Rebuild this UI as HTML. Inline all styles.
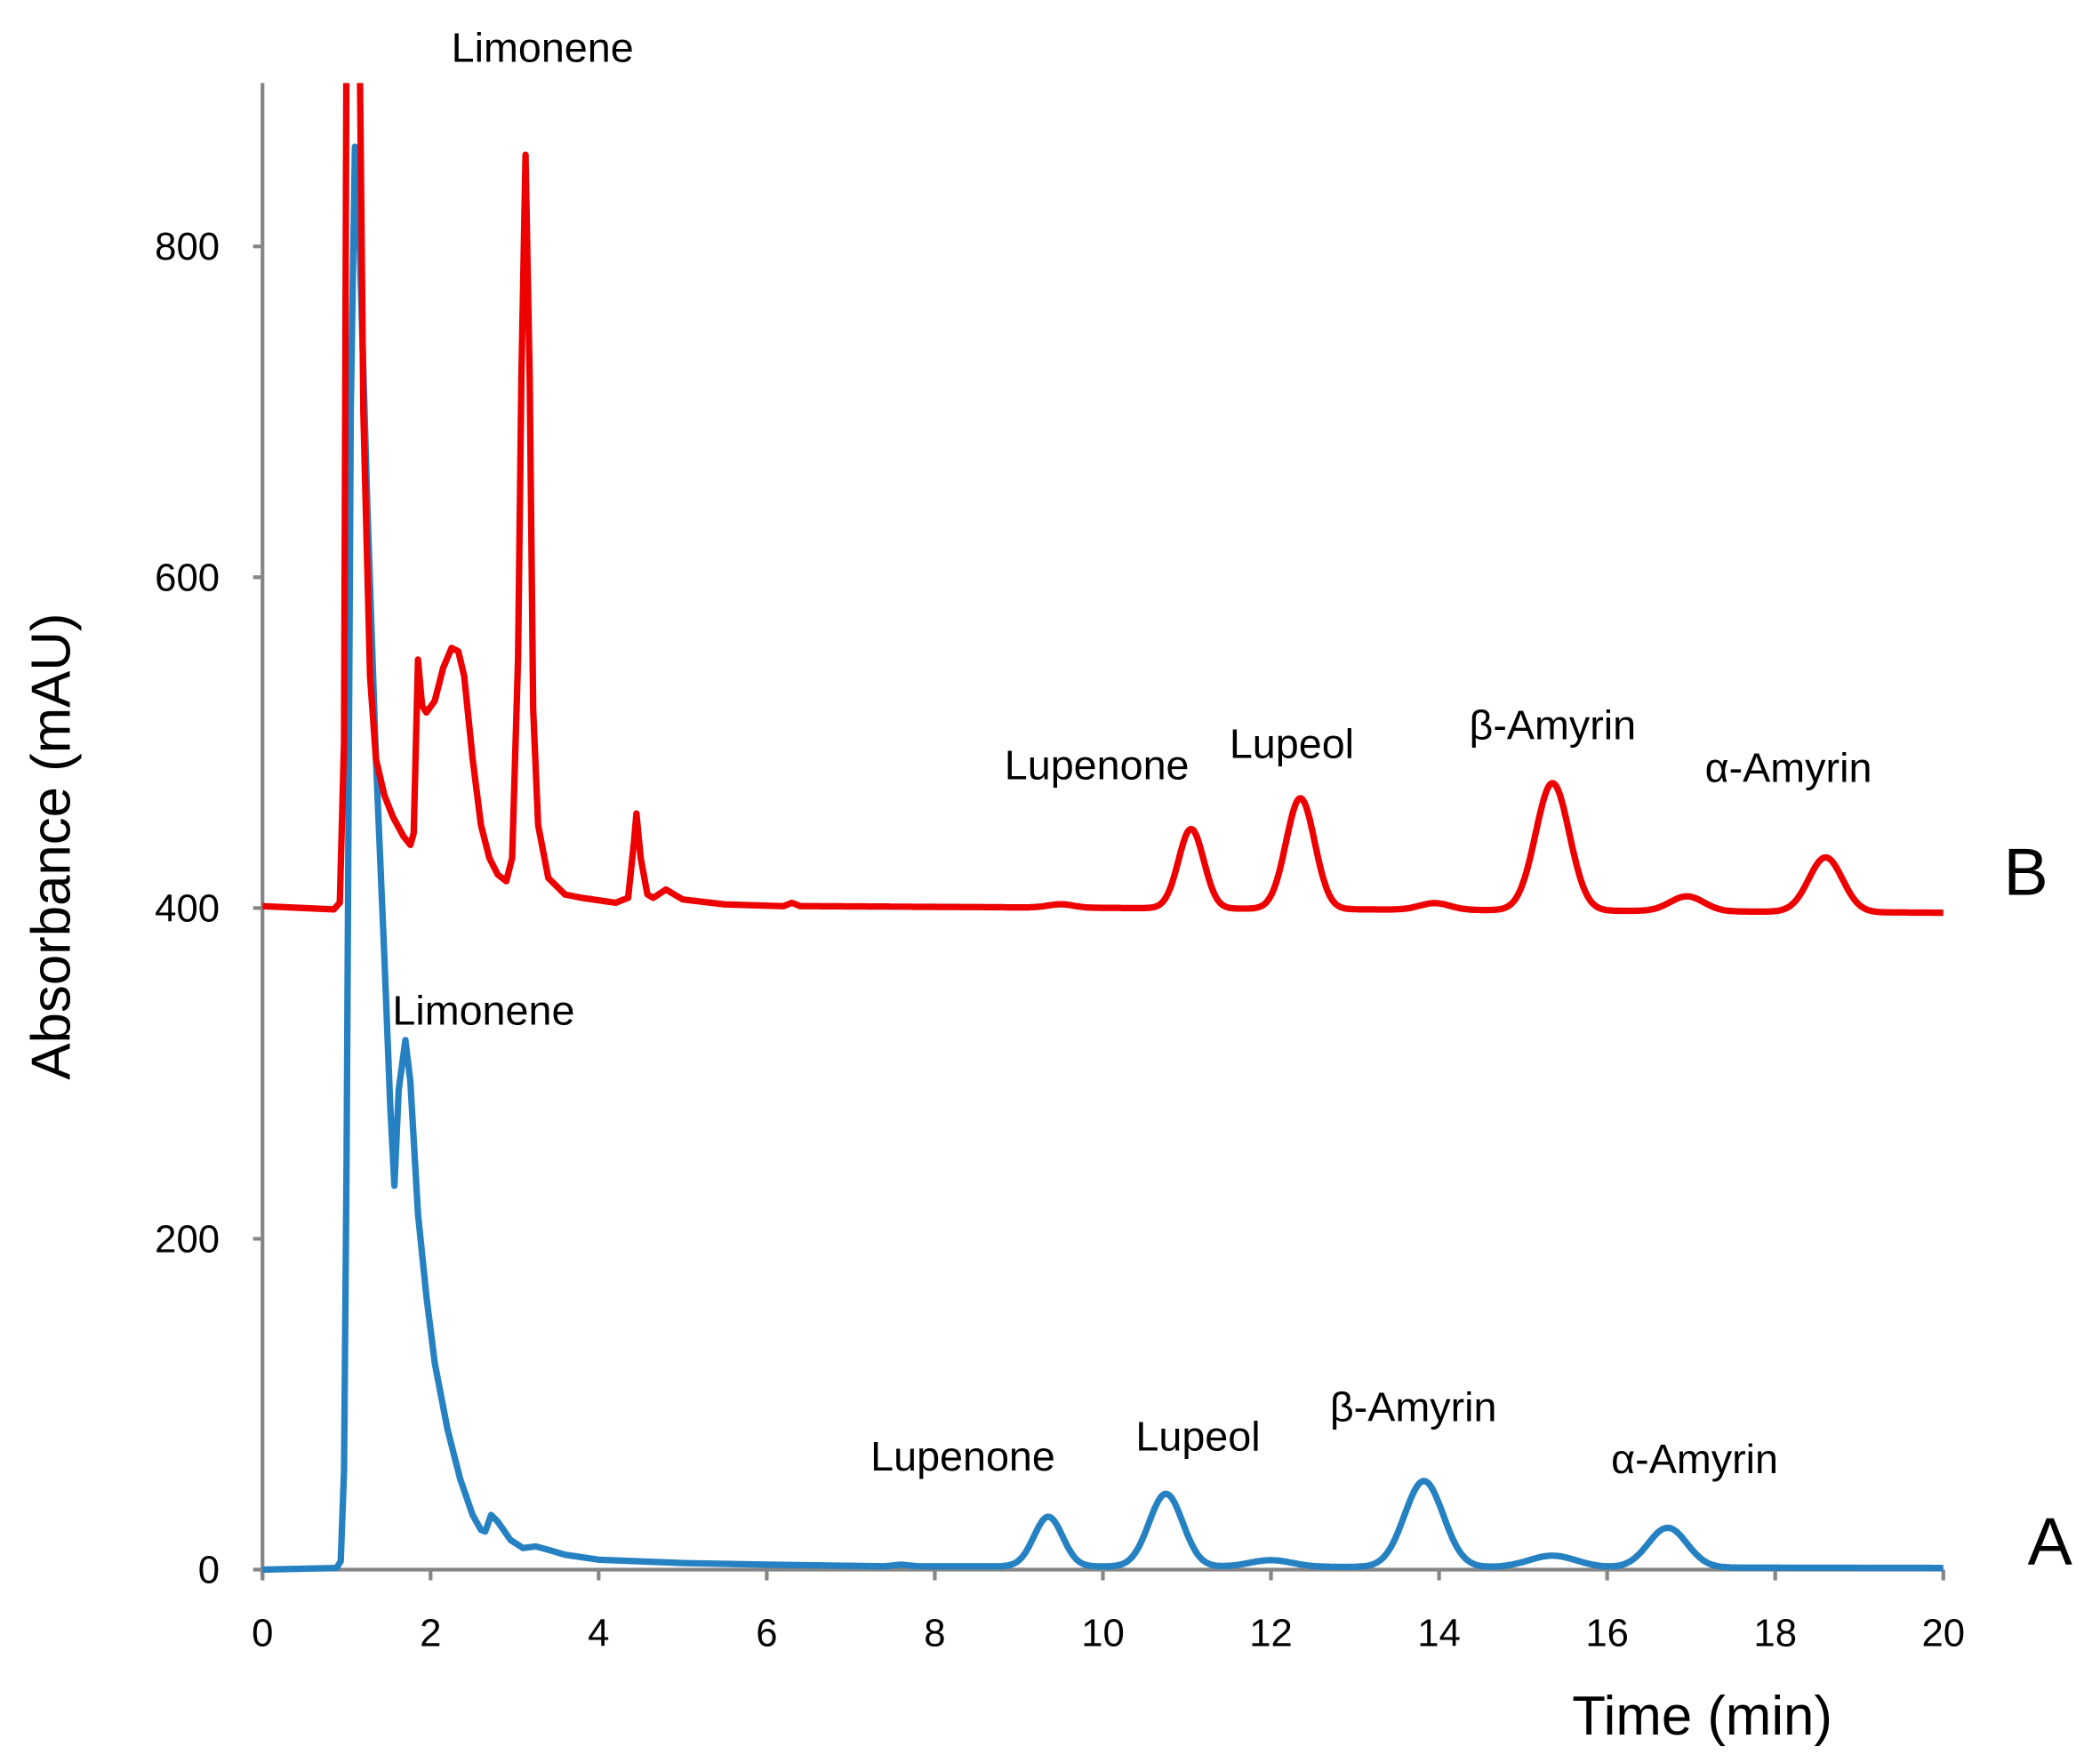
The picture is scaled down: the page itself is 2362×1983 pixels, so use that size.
<!DOCTYPE html>
<html><head><meta charset="utf-8"><style>
html,body{margin:0;padding:0;background:#fff;}
svg{display:block;}
text{font-family:"Liberation Sans",sans-serif;fill:#000;}
</style></head><body>
<svg id="s" width="2362" height="1983" viewBox="0 0 1568 1316.4" preserveAspectRatio="none" xmlns="http://www.w3.org/2000/svg">
<defs><clipPath id="c"><rect x="196" y="62" width="1260" height="1115"/></clipPath></defs>
<g stroke="#868686" stroke-width="2.8" fill="none">
<line x1="196" y1="62" x2="196" y2="1179"/>
<line x1="189" y1="1172" x2="1451" y2="1172"/>
<line x1="189" y1="925" x2="196" y2="925"/>
<line x1="189" y1="678" x2="196" y2="678"/>
<line x1="189" y1="431" x2="196" y2="431"/>
<line x1="189" y1="184" x2="196" y2="184"/>
<g id="xt"></g>
</g>
<g font-size="29" text-anchor="end">
<text x="164" y="1182">0</text>
<text x="164" y="935">200</text>
<text x="164" y="688">400</text>
<text x="164" y="441">600</text>
<text x="164" y="194">800</text>
</g>
<g id="xl" font-size="29" text-anchor="middle"></g>
<text x="1271" y="1295" font-size="41" text-anchor="middle">Time (min)</text>
<text transform="translate(52,632) rotate(-90)" font-size="41" text-anchor="middle">Absorbance (mAU)</text>
<g clip-path="url(#c)" fill="none" stroke-width="4.8" stroke-linejoin="round">
<path id="pb" stroke="#2681c2"/>
<path id="pr" stroke="#ee0000"/>
</g>
<g font-size="31">
<text x="337" y="46">Limonene</text>
<text x="293" y="765">Limonene</text>
<text x="750" y="582">Lupenone</text>
<text x="918" y="566">Lupeol</text>
<text x="1097" y="552">β-Amyrin</text>
<text x="1273" y="584">α-Amyrin</text>
<text x="650" y="1098">Lupenone</text>
<text x="848" y="1083">Lupeol</text>
<text x="993" y="1061">β-Amyrin</text>
<text x="1203" y="1100">α-Amyrin</text>
</g>
<text x="1496" y="668" font-size="50">B</text>
<text x="1514" y="1168" font-size="50">A</text>
</svg>
<script>
var X=function(t){return 196+62.75*t;},Y=function(v){return 1172-1.2355*v;};
var xt=document.getElementById('xt'),xl=document.getElementById('xl'),ns='http://www.w3.org/2000/svg';
for(var i=0;i<=20;i+=2){var l=document.createElementNS(ns,'line');l.setAttribute('x1',X(i));l.setAttribute('x2',X(i));l.setAttribute('y1',1172);l.setAttribute('y2',1180);xt.appendChild(l);
var t=document.createElementNS(ns,'text');t.setAttribute('x',X(i));t.setAttribute('y',1229);t.textContent=i;xl.appendChild(t);}
function g(t,c,s,h){return h*Math.exp(-0.5*(t-c)*(t-c)/(s*s));}
function build(early,tEnd,base,peaks){
 var p=[];for(var i=0;i<early.length;i++)p.push([early[i][0],early[i][1]]);
 for(var t=tEnd;t<=20.001;t+=0.02){var v=base(t);for(var k=0;k<peaks.length;k++)v+=g(t,peaks[k][0],peaks[k][1],peaks[k][2]);p.push([t,v]);}
 return 'M'+p.map(function(a){return X(a[0]).toFixed(1)+','+Y(a[1]).toFixed(1);}).join('L');
}
var be=[[0,0],[0.88,1],[0.93,5],[0.97,60],[1.0,250],[1.05,700],[1.1,860],[1.15,810],[1.25,640],[1.35,490],[1.45,370],[1.52,280],[1.57,232],[1.62,290],[1.7,320],[1.76,295],[1.85,215],[1.95,165],[2.05,125],[2.2,85],[2.35,55],[2.5,33],[2.6,24],[2.65,23],[2.72,33],[2.8,29],[2.95,18],[3.1,13],[3.25,14],[3.4,12],[3.6,9],[4,6],[5,4],[6,3],[7.4,2],[7.6,3],[7.8,2],[8.8,2]];
document.getElementById('pb').setAttribute('d',build(be,8.82,function(t){return 2-(t-8.8)/11.2;},[[9.35,0.17,30],[10.75,0.2,44],[12.0,0.25,4],[13.82,0.23,52],[15.35,0.28,7],[16.72,0.23,24]]));
var re=[[0,401],[0.85,399],[0.92,403],[0.97,500],[1.0,950],[1.06,950],[1.08,950],[1.12,950],[1.15,950],[1.2,700],[1.28,540],[1.35,490],[1.45,468],[1.55,455],[1.68,443],[1.76,438],[1.8,445],[1.85,550],[1.9,522],[1.95,518],[2.05,525],[2.15,545],[2.25,557],[2.33,555],[2.4,540],[2.5,490],[2.6,450],[2.7,430],[2.8,420],[2.9,416],[2.97,430],[3.04,550],[3.08,720],[3.13,855],[3.18,720],[3.22,520],[3.28,450],[3.4,418],[3.6,408],[3.8,406],[4.2,403],[4.35,406],[4.42,440],[4.45,457],[4.5,430],[4.58,408],[4.65,406],[4.8,411],[5.0,405],[5.5,402],[6.2,401],[6.3,403],[6.4,401]];
document.getElementById('pr').setAttribute('d',build(re,6.42,function(t){return 401-(t-6.4)*4/13.6;},[[9.5,0.15,2],[11.05,0.15,48],[12.35,0.17,67],[13.95,0.18,4],[15.35,0.2,77],[16.95,0.2,9],[18.6,0.2,33]]));
</script>
</body></html>
